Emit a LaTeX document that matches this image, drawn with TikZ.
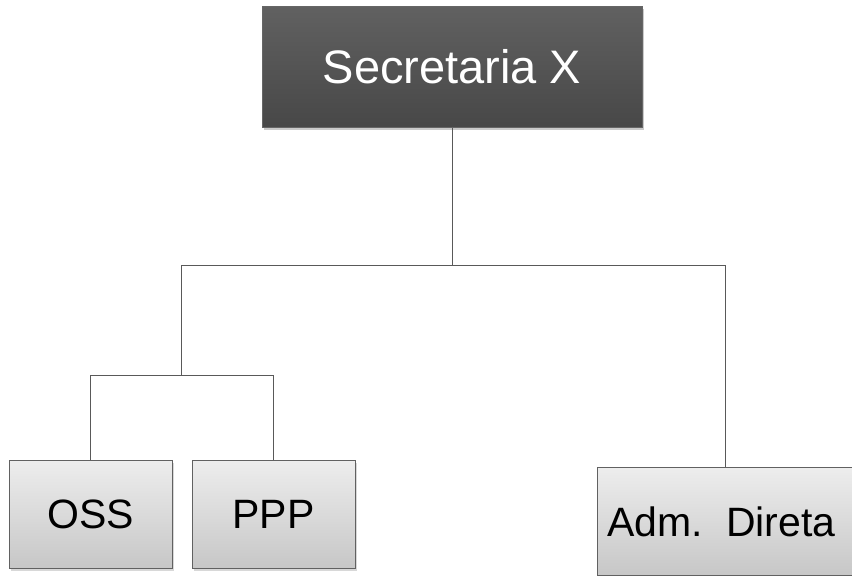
\documentclass[tikz,border=0pt]{standalone}
\usepackage{fontspec}
\setmainfont{Liberation Sans}
\usetikzlibrary{shadows}
\begin{document}
\begin{tikzpicture}[x=1pt,y=-1pt,
  topbox/.style={draw=black!60, line width=1pt, top color=black!62, bottom color=black!72,
    minimum width=380pt, minimum height=121pt, inner sep=0pt, text=white,
    font=\fontsize{47}{52}\selectfont,
    drop shadow={shadow xshift=2pt, shadow yshift=-3pt, fill=black!35, opacity=0.6}},
  subbox/.style={draw=black!62, line width=1pt, top color=black!7, bottom color=black!22,
    minimum width=163pt, minimum height=108pt, inner sep=0pt, text=black,
    font=\fontsize{41}{46}\selectfont,
    drop shadow={shadow xshift=2pt, shadow yshift=-3pt, fill=black!30, opacity=0.5}},
  conn/.style={draw=black!65, line width=1pt}]
\useasboundingbox (0,0) rectangle (852,576);
\node[topbox] (sec) at (452,66.5) {Secretaria X};
\node[subbox] (oss) at (90.5,514) {OSS};
\node[subbox] (ppp) at (273.5,514) {PPP};
\node[subbox, minimum width=258pt, anchor=north west] (adm) at (597,467) {\hspace*{-10pt}Adm.\ \ Direta};
\coordinate (j1) at (452,265);
\coordinate (l1) at (181,265);
\coordinate (r1) at (725,265);
\coordinate (j2) at (181,375);
\coordinate (l2) at (90.5,375);
\coordinate (r2) at (273.5,375);
\draw[conn] (sec.south) -- (j1);
\draw[conn] (l1) -- (r1);
\draw[conn] (l1) -- (j2);
\draw[conn] (l2) -- (r2);
\draw[conn] (l2) -- (oss.north);
\draw[conn] (r2) -- (ppp.north);
\draw[conn] (r1) -- (r1 |- adm.north);
\end{tikzpicture}
\end{document}
